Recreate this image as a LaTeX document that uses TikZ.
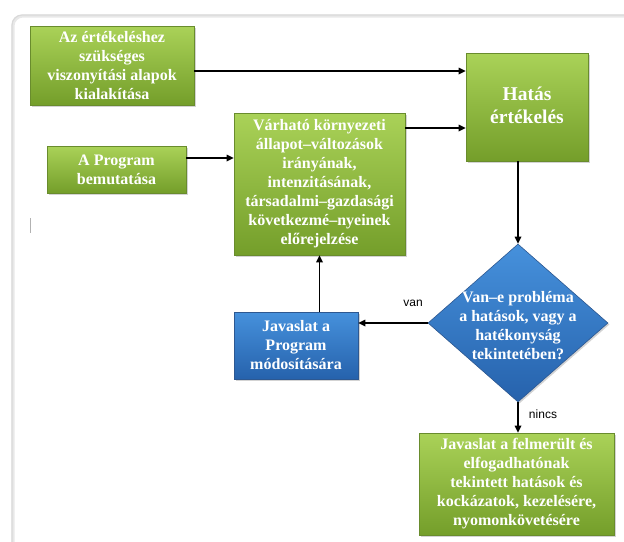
\documentclass[tikz,border=0pt]{standalone}
\usepackage{fontspec}
\setmainfont{Liberation Serif}
\newfontfamily\sansf{Liberation Sans}
\usetikzlibrary{shapes.geometric,arrows.meta,shadows}
\definecolor{gtop}{RGB}{170,210,88}
\definecolor{gbot}{RGB}{116,158,42}
\definecolor{gline}{RGB}{105,140,45}
\definecolor{btop}{RGB}{70,145,220}
\definecolor{bbot}{RGB}{38,98,172}
\definecolor{bline}{RGB}{45,88,145}
\tikzset{
  gbox/.style={rectangle, inner sep=0pt, top color=gtop, bottom color=gbot, draw=gline, line width=0.6pt,
    drop shadow={opacity=0.35, shadow xshift=1.5pt, shadow yshift=-1.5pt}},
  bbox/.style={rectangle, inner sep=0pt, top color=btop, bottom color=bbot, draw=bline, line width=0.6pt,
    drop shadow={opacity=0.35, shadow xshift=1.5pt, shadow yshift=-1.5pt}},
  txt/.style={text=white, font=\bfseries\fontsize{16}{19}\selectfont, align=center, inner sep=0pt},
  bigtxt/.style={text=white, font=\bfseries\fontsize{19.5}{23}\selectfont, align=center, inner sep=0pt},
  lbl/.style={font=\sansf\fontsize{12}{14}\selectfont, inner sep=0pt},
  arr/.style={line width=1.6pt, -{Triangle[length=7pt,width=6.5pt]}}
}
\begin{document}
\begin{tikzpicture}[x=1pt,y=-1pt]
\useasboundingbox (0,0) rectangle (624,541);
% frame
\draw[gray!18, line width=3pt, rounded corners=10pt] (13,16) rectangle (650,560);
\draw[gray!30, line width=1.2pt, rounded corners=10pt] (12,15) rectangle (650,560);
\draw[gray!60, line width=0.7pt] (30.7,218) -- (30.7,233);
% boxes
\node[gbox, minimum width=164pt, minimum height=79pt] (b1) at (112,65.5) {};
\node[txt] at (b1) {Az értékeléshez\\szükséges\\viszonyítási alapok\\kialakítása};
\node[gbox, minimum width=122pt, minimum height=108pt] (hat) at (527,107) {};
\node[bigtxt] at ([yshift=2pt]hat.center) {Hatás\\értékelés};
\node[gbox, minimum width=139pt, minimum height=47pt] (prog) at (116.5,169.5) {};
\node[txt] at (prog) {A Program\\bemutatása};
\node[gbox, minimum width=171pt, minimum height=142pt] (var) at (319.5,184) {};
\node[txt] at (var) {Várható környezeti\\állapot–változások\\irányának,\\intenzitásának,\\társadalmi–gazdasági\\következmé–nyeinek\\előrejelzése};
\node[diamond, inner sep=0pt, minimum width=180pt, minimum height=158pt, top color=btop, bottom color=bbot, draw=bline, line width=0.6pt,
  drop shadow={opacity=0.35, shadow xshift=1.5pt, shadow yshift=-1.5pt}] (dia) at (518,323) {};
\node[txt] at ([yshift=-3pt]dia.center) {Van–e probléma\\a hatások, vagy a\\hatékonyság\\tekintetében?};
\node[bbox, minimum width=124pt, minimum height=67pt] (jav) at (296,345.5) {};
\node[txt] at (jav) {Javaslat a\\Program\\módosítására};
\node[gbox, minimum width=195pt, minimum height=102pt] (fin) at (516.5,484) {};
\node[txt] at (fin) {Javaslat a felmerült és\\elfogadhatónak\\tekintett hatások és\\kockázatok, kezelésére,\\nyomonkövetésére};
% connectors
\draw[arr] ([yshift=-5.5pt]b1.east) -- ([yshift=-5.5pt]b1.east -| hat.west);
\draw[arr] ([yshift=11.5pt]prog.east) -- ([yshift=11.5pt]prog.east -| var.west);
\draw[arr] ([yshift=56pt]var.east) -- ([yshift=56pt]var.east -| hat.west);
\draw[arr] (dia.north |- hat.south) -- (dia.north);
\draw[arr] (dia.west) -- (dia.west -| jav.east);
\draw[arr] (var.south |- jav.north) -- (var.south);
\draw[arr] (dia.south) -- (dia.south |- fin.north);
\node[lbl] (van) at (413,303) {van};
\node[lbl] (nincs) at (543,414) {nincs};
\end{tikzpicture}
\end{document}
